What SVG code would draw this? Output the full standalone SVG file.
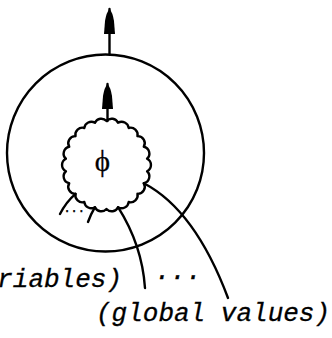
<svg xmlns="http://www.w3.org/2000/svg" width="332" height="338" viewBox="0 0 332 338">
<style>
.ln{fill:none;stroke:#000;stroke-width:2.4;stroke-linecap:round;stroke-linejoin:round}
.lbl{font-family:"Liberation Mono","Courier New",monospace;font-style:italic;font-size:26px;fill:#000;stroke:#000;stroke-width:0.3}
.sm{font-family:"Liberation Mono","Courier New",monospace;font-size:12px;fill:#000;stroke:#000;stroke-width:0.4}
</style>
<defs>
<marker id="ah" markerUnits="userSpaceOnUse" viewBox="-27 -7 29 14" markerWidth="29" markerHeight="14" refX="0" refY="0" orient="auto">
<path d="M0 0 Q-3 -3 -12 -4.5 L-25 -5.5 L-25 5.5 L-12 4.5 Q-3 3 0 0 Z" fill="#000"/>
</marker>
</defs>
<g id="outer">
<circle class="ln" cx="105.5" cy="153" r="98.5"/>
</g>
<g id="blob">
<path class="ln" d="M106.5 121 A7 7 0 0 1 118.05 122.78 A7 7 0 0 1 128.66 127.98 A7 7 0 0 1 137.48 136.18 A7 7 0 0 1 143.79 146.72 A7 7 0 0 1 147.08 158.74 A7 7 0 0 1 147.08 171.26 A7 7 0 0 1 143.79 183.28 A7 7 0 0 1 137.48 193.82 A7 7 0 0 1 128.66 202.02 A7 7 0 0 1 118.05 207.22 A7 7 0 0 1 106.5 209 A7 7 0 0 1 94.95 207.22 A7 7 0 0 1 84.34 202.02 A7 7 0 0 1 75.52 193.82 A7 7 0 0 1 69.21 183.28 A7 7 0 0 1 65.92 171.26 A7 7 0 0 1 65.92 158.74 A7 7 0 0 1 69.21 146.72 A7 7 0 0 1 75.52 136.18 A7 7 0 0 1 84.34 127.98 A7 7 0 0 1 94.95 122.78 A7 7 0 0 1 106.5 121 Z"/>
<text x="102.5" y="171" text-anchor="middle" font-family="Liberation Serif, serif" font-size="29" stroke="#000" stroke-width="0.3">ϕ</text>
</g>
<g id="connectors">
<path class="ln" d="M109.5 54 L109.5 9" marker-end="url(#ah)"/>
<path class="ln" d="M107.5 121 L107.5 84" marker-end="url(#ah)"/>
<path class="ln" d="M75.52 193.82 Q66 202 60 214"/>
<path class="ln" d="M94.95 207.22 Q91 214 88 222"/>
<path class="ln" d="M118.05 207.22 Q142 245 145 288"/>
<path class="ln" d="M143.79 183.28 Q195 210 228 298"/>
</g>
<g id="labels">
<text class="sm" x="63.4" y="212">...</text>
<text class="lbl" x="155" y="279">...</text>
<text class="lbl" x="122" y="287" text-anchor="end">(local variables)</text>
<text class="lbl" x="96" y="321">(global values)</text>
</g>
</svg>
